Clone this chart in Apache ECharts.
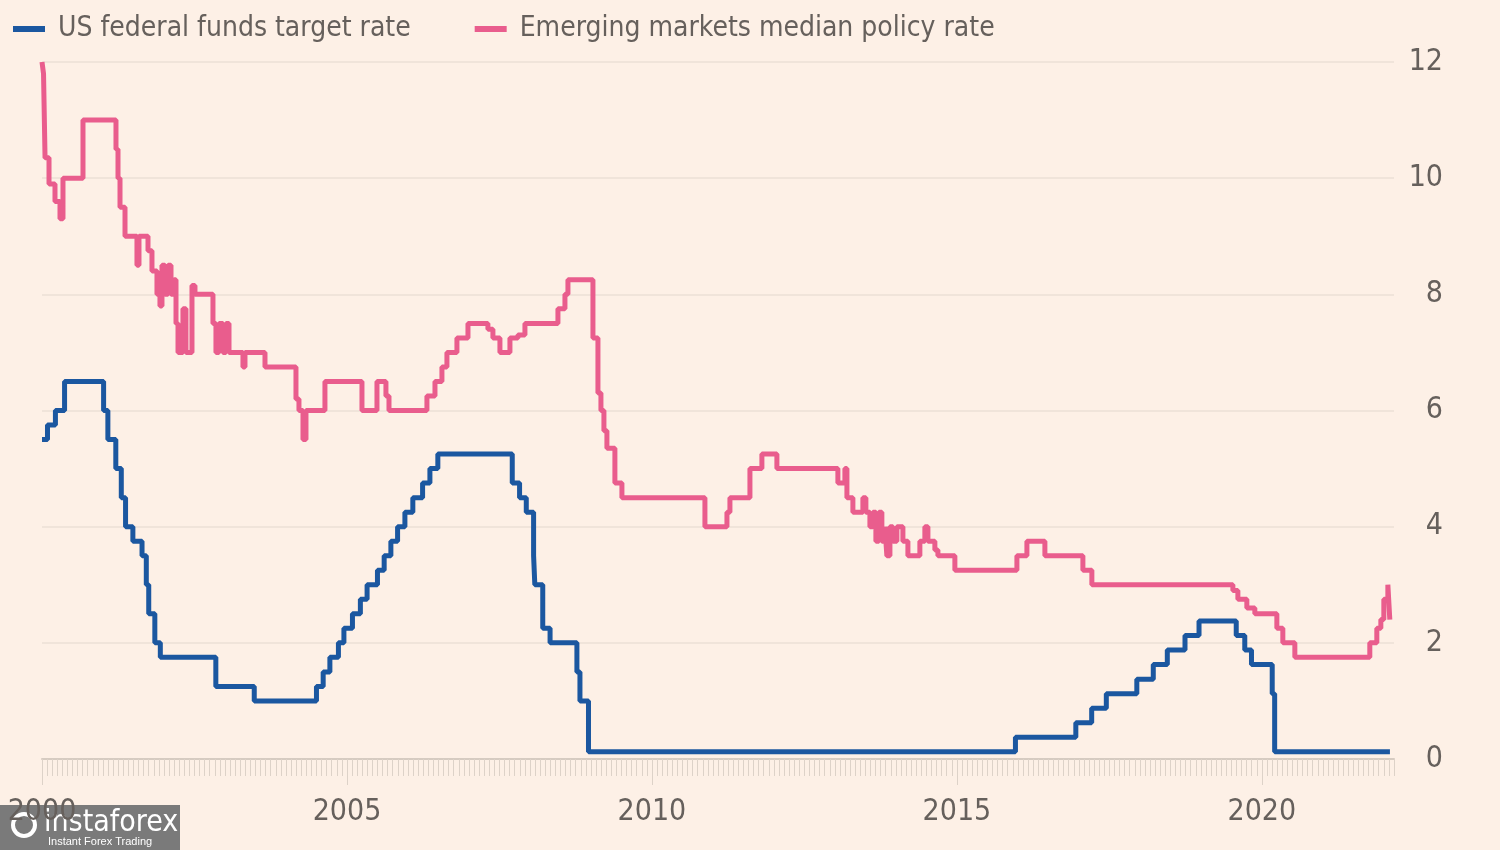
<!DOCTYPE html>
<html>
<head>
<meta charset="utf-8">
<script src="https://cdn.jsdelivr.net/npm/echarts@6/dist/echarts.min.js"></script>
<style>
  html, body { margin: 0; padding: 0; background: #fdf0e6; }
  #chart { width: 1500px; height: 850px; }
</style>
</head>
<body>
<div id="chart"></div>
<script>
// ---- Data (decimal years) ----
const seriesNames = ['US federal funds target rate', 'Emerging markets median policy rate'];
const yTickLabels = [0, 2, 4, 6, 8, 10, 12];
const xTickYears = [2000, 2005, 2010, 2015, 2020];

const usDates = [2000.00, 2000.09, 2000.22, 2000.37, 2001.01, 2001.08, 2001.21, 2001.30, 2001.37, 2001.49,
  2001.64, 2001.71, 2001.75, 2001.85, 2001.94, 2002.85, 2003.48, 2004.50, 2004.61, 2004.72,
  2004.86, 2004.95, 2005.09, 2005.22, 2005.33, 2005.50, 2005.61, 2005.72, 2005.83, 2005.95,
  2006.08, 2006.24, 2006.36, 2006.49, 2007.71, 2007.83, 2007.94, 2008.06, 2008.08, 2008.21,
  2008.33, 2008.77, 2008.82, 2008.96, 2015.96, 2016.95, 2017.21, 2017.45, 2017.95, 2018.22,
  2018.45, 2018.74, 2018.97, 2019.58, 2019.72, 2019.83, 2020.17, 2020.21, 2022.10];
const usRates = [5.5, 5.75, 6.0, 6.5, 6.0, 5.5, 5.0, 4.5, 4.0, 3.75,
  3.5, 3.0, 2.5, 2.0, 1.75, 1.25, 1.0, 1.25, 1.5, 1.75,
  2.0, 2.25, 2.5, 2.75, 3.0, 3.25, 3.5, 3.75, 4.0, 4.25,
  4.5, 4.75, 5.0, 5.25, 4.75, 4.5, 4.25, 3.5, 3.0, 2.25,
  2.0, 1.5, 1.0, 0.125, 0.375, 0.625, 0.875, 1.125, 1.375, 1.625,
  1.875, 2.125, 2.375, 2.125, 1.875, 1.625, 1.125, 0.125, 0.125];

const emDates = [2000.000, 2000.025, 2000.050, 2000.115, 2000.213, 2000.295, 2000.344, 2000.672, 2001.213, 2001.246,
  2001.279, 2001.361, 2001.557, 2001.590, 2001.738, 2001.803, 2001.885, 2001.934, 2001.967, 2002.016,
  2002.066, 2002.115, 2002.164, 2002.197, 2002.230, 2002.311, 2002.360, 2002.459, 2002.508, 2002.803,
  2002.852, 2002.902, 2002.967, 2003.016, 2003.066, 2003.295, 2003.328, 2003.656, 2004.164, 2004.213,
  2004.279, 2004.328, 2004.639, 2005.246, 2005.492, 2005.639, 2005.689, 2006.311, 2006.443, 2006.557,
  2006.639, 2006.803, 2006.984, 2007.311, 2007.393, 2007.508, 2007.672, 2007.803, 2007.918, 2008.459,
  2008.574, 2008.623, 2009.033, 2009.115, 2009.164, 2009.213, 2009.262, 2009.393, 2009.508, 2010.869,
  2011.230, 2011.279, 2011.607, 2011.803, 2012.049, 2013.049, 2013.164, 2013.197, 2013.295, 2013.459,
  2013.508, 2013.574, 2013.623, 2013.672, 2013.721, 2013.770, 2013.820, 2013.852, 2013.902, 2013.951,
  2014.016, 2014.115, 2014.197, 2014.393, 2014.475, 2014.525, 2014.639, 2014.689, 2014.967, 2015.984,
  2016.148, 2016.443, 2017.066, 2017.213, 2019.525, 2019.607, 2019.754, 2019.885, 2020.246, 2020.344,
  2020.541, 2021.770, 2021.885, 2021.951, 2022.000, 2022.066, 2022.098, 2022.100];
const emRates = [12.0, 11.8, 10.35, 9.9, 9.6, 9.3, 10.0, 11.0, 10.5, 10.0,
  9.5, 9.0, 8.5, 9.0, 8.75, 8.4, 8.0, 7.8, 8.5, 8.0,
  8.5, 8.0, 8.25, 7.5, 7.0, 7.75, 7.0, 8.15, 8.0, 7.5,
  7.0, 7.5, 7.0, 7.5, 7.0, 6.75, 7.0, 6.75, 6.2, 6.0,
  5.5, 6.0, 6.5, 6.0, 6.5, 6.25, 6.0, 6.25, 6.5, 6.75,
  7.0, 7.25, 7.5, 7.4, 7.25, 7.0, 7.25, 7.3, 7.5, 7.75,
  8.0, 8.25, 7.25, 6.3, 6.0, 5.65, 5.35, 4.75, 4.5, 4.0,
  4.25, 4.5, 5.0, 5.25, 5.0, 4.75, 5.0, 4.5, 4.25, 4.5,
  4.25, 4.0, 4.25, 3.75, 4.25, 3.75, 4.0, 3.5, 4.0, 3.75,
  4.0, 3.75, 3.5, 3.75, 4.0, 3.75, 3.6, 3.5, 3.25, 3.5,
  3.75, 3.5, 3.25, 3.0, 2.9, 2.75, 2.6, 2.5, 2.25, 2.0,
  1.75, 2.0, 2.25, 2.4, 2.75, 3.0, 2.4, 2.4];

// ---- Build ----
const pair = (xs, ys) => xs.map((x, i) => [x, ys[i]]);
const monthTicks = [];
for (let m = 0; m <= 266; m++) monthTicks.push(2000 + m / 12);

const FONT = '"DejaVu Sans Condensed", "Liberation Sans", sans-serif';
const TEXT = '#66605c';
const BLUE = '#1b57a0';
const PINK = '#e95d8d';

const chart = echarts.init(document.getElementById('chart'), null, { renderer: 'canvas' });
chart.setOption({
  backgroundColor: '#fdf0e6',
  animation: false,
  textStyle: { fontFamily: FONT },
  legend: {
    left: 8, top: 10,
    icon: 'rect', itemWidth: 32, itemHeight: 6, itemGap: 64,
    textStyle: { fontSize: 28, color: TEXT, fontFamily: FONT, padding: [0, 0, 0, 8] },
    data: seriesNames
  },
  grid: { left: 42, right: 106, top: 62, bottom: 91, containLabel: false },
  xAxis: [{
    type: 'value', min: 2000, max: 2022.1667, position: 'bottom',
    axisLine: { show: true, lineStyle: { color: '#d6cbc1', width: 2 } },
    axisTick: { show: true, customValues: monthTicks, length: 17, lineStyle: { color: '#ddd2c8', width: 1 } },
    axisLabel: { show: false },
    splitLine: { show: false }
  }, {
    type: 'value', min: 2000, max: 2022.1667, position: 'bottom', offset: 0,
    axisLine: { show: false },
    axisTick: { show: true, customValues: xTickYears, length: 26, lineStyle: { color: '#ddd2c8', width: 1 } },
    axisLabel: { show: true, customValues: xTickYears, margin: 38, fontSize: 30, color: TEXT, fontFamily: FONT,
      formatter: v => String(Math.round(v)) },
    splitLine: { show: false }
  }],
  yAxis: {
    type: 'value', min: 0, max: 12, interval: 2, position: 'right',
    axisLine: { show: false }, axisTick: { show: false },
    axisLabel: { align: 'right', margin: 49, fontSize: 30, color: TEXT, fontFamily: FONT,
      customValues: yTickLabels },
    splitLine: { lineStyle: { color: '#ebe0d6', width: 1.5 } }
  },
  series: [{
    name: seriesNames[0], type: 'line', step: 'end', xAxisIndex: 0,
    data: pair(usDates, usRates), showSymbol: false, clip: false,
    lineStyle: { color: BLUE, width: 5 }, itemStyle: { color: BLUE }, z: 3
  }, {
    name: seriesNames[1], type: 'line', step: 'end', xAxisIndex: 0,
    data: pair(emDates, emRates), showSymbol: false, clip: false,
    lineStyle: { color: PINK, width: 5 }, itemStyle: { color: PINK }, z: 2
  }],
  graphic: [{
    type: 'group', left: 0, top: 805, z: 100,
    children: [
      { type: 'rect', shape: { x: 0, y: 0, width: 180, height: 45 }, style: { fill: '#7a7a7a' } },
      { type: 'circle', shape: { cx: 24, cy: 20, r: 11 }, style: { fill: 'none', stroke: '#ffffff', lineWidth: 4 } },
      { type: 'text', x: 44, y: 3, style: { text: 'instaforex', fill: '#ffffff', font: '30px "DejaVu Sans Condensed", sans-serif' } },
      { type: 'text', x: 48, y: 31, style: { text: 'Instant Forex Trading', fill: '#ffffff', font: '11px "Liberation Sans", sans-serif' } }
    ]
  }]
});
</script>
</body>
</html>
